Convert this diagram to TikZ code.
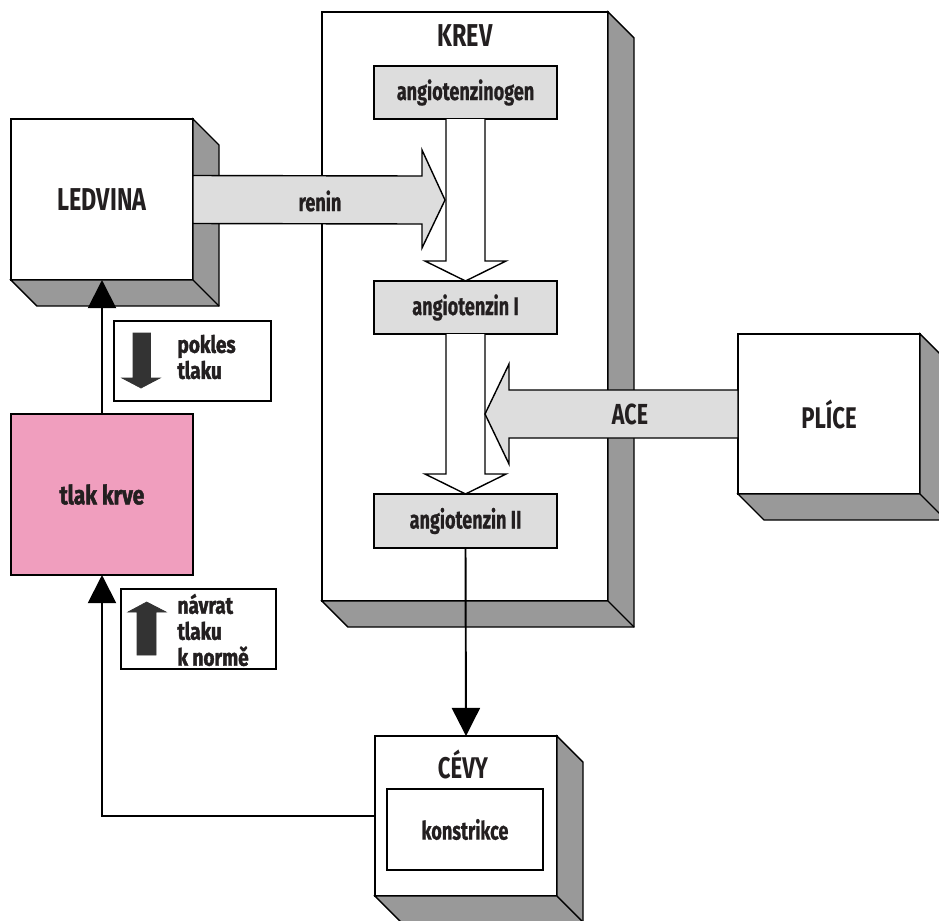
\documentclass[tikz,border=0pt]{standalone}
\usepackage{fontspec}
\setmainfont{Fira Sans}[FakeStretch=0.74]
\newfontfamily\labelfont{Fira Sans}[FakeStretch=0.71,FakeBold=0.6]
\newfontfamily\heavyfont{Fira Sans}[FakeStretch=0.80,FakeBold=1.7]
\usetikzlibrary{arrows.meta,calc,fit}

\definecolor{depthgray}{HTML}{999999}
\definecolor{panelgray}{HTML}{DDDDDD}
\definecolor{bppink}{HTML}{F09EBE}
\definecolor{inkdark}{HTML}{231F20}
\definecolor{arrowdark}{HTML}{333333}

% right and bottom faces of a raised box, 26 units deep
\newcommand\boxdepth[1]{%
  \filldraw[fill=depthgray,draw=black,line join=miter]
    (#1.north east) -- ++(26,26) -- ($(#1.south east)+(26,26)$)
    -- ($(#1.south west)+(26,26)$) -- (#1.south west) -- (#1.south east) -- cycle;
  \draw (#1.south east) -- ++(26,26);
}

\begin{document}
\begin{tikzpicture}[x=0.02cm,y=-0.02cm,line width=0.8pt,text=inkdark,
  face/.style={draw=black,fill=white,inner sep=0pt,outer sep=0pt},
  chem/.style={draw=black,fill=panelgray,inner sep=0pt,outer sep=0pt},
  chemtext/.style={font=\labelfont\bfseries\fontsize{14.5}{16}\selectfont},
  bigtext/.style={font=\bfseries\fontsize{18}{20}\selectfont},
  midtext/.style={font=\bfseries\fontsize{17}{19}\selectfont},
  heavytext/.style={font=\heavyfont\bfseries\fontsize{13.5}{14.8}\selectfont,align=left},
  conn/.style={line width=1.1pt,-{Triangle[width=16pt,length=16pt]}},
  blockarrow/.style={draw=black,fill=panelgray,line join=miter},
  hollowarrow/.style={draw=black,fill=white,line join=miter},
  darkarrow/.style={fill=arrowdark,draw=arrowdark,line width=0.4pt,line join=miter}]

\useasboundingbox (0,0) rectangle (939,920);
\clip (0,0) rectangle (939,920);

% ---- blood compartment ----
\node[face,fit={(322,12) (608,601)}] (krev) {};
\boxdepth{krev}
\node[bigtext] (krevlabel) at (465,36) {KREV};

\node[chem,fit={(374,66) (557,119)}] (ag) {};
\node[chemtext] at (ag) {angiotenzinogen};
\node[chem,fit={(374,281) (557,334)}] (a1) {};
\node[chemtext] at (a1) {angiotenzin I};
\node[chem,fit={(374,494) (557,548)}] (a2) {};
\node[chemtext] at (a2) {angiotenzin II};

% conversion steps
\filldraw[hollowarrow] ($(ag.south)+(-19.5,0)$) -- ($(a1.north)+(-19.5,-20)$)
  -- ($(a1.north)+(-40.5,-20)$) -- (a1.north) -- ($(a1.north)+(40.5,-20)$)
  -- ($(a1.north)+(19.5,-20)$) -- ($(ag.south)+(19.5,0)$);
\filldraw[hollowarrow] ($(a1.south)+(-19.5,0)$) -- ($(a2.north)+(-19.5,-20)$)
  -- ($(a2.north)+(-40.5,-20)$) -- (a2.north) -- ($(a2.north)+(40.5,-20)$)
  -- ($(a2.north)+(19.5,-20)$) -- ($(a1.south)+(19.5,0)$);

% ---- kidney ----
\node[face,fit={(11,119) (193,280)}] (led) {};
\boxdepth{led}
\node[bigtext] at (led) {LEDVINA};

% ---- lungs ----
\node[face,fit={(738,334) (920,494)}] (pl) {};
\boxdepth{pl}
\node[midtext] at (pl) {PLÍCE};

% ---- vessels ----
\node[face,fit={(375,736) (557,896)}] (cevy) {};
\boxdepth{cevy}
\node[midtext] (cevylabel) at (463,764) {CÉVY};
\node[face,fit={(387,789) (543,870)}] (kon) {};
\node[chemtext] at (kon) {konstrikce};

% ---- blood pressure ----
\node[draw=black,fill=bppink,inner sep=0pt,outer sep=0pt,fit={(11,414) (193,575)}] (tlak) {};
\node[heavytext,font=\heavyfont\bfseries\fontsize{15}{16}\selectfont] at (tlak) {tlak krve};

% renin and ACE transfer arrows
\filldraw[blockarrow] ($(led.east)+(0,-24)$) -- (422,176) -- (422,150) -- (445,200)
  -- (422,248) -- (422,224) -- ($(led.east)+(0,24)$) -- cycle;
\node[chemtext] (renin) at (320,201) {renin};
\filldraw[blockarrow] ($(pl.west)+(0,-24)$) -- (509,390) -- (509,364) -- (485,414)
  -- (509,464) -- (509,438) -- ($(pl.west)+(0,24)$) -- cycle;
\node[font=\bfseries\fontsize{16.5}{18}\selectfont] (ace) at (630,414) {ACE};

% ---- feedback loop ----
\draw[conn] (tlak.north) -- (led.south);
\draw[conn] (a2.south) -- (cevy.north);
\draw[conn] (cevy.west) -| (tlak.south);

% ---- legends ----
\node[face,fit={(114,321) (271,401)}] (pokles) {};
\filldraw[darkarrow] (133,333) -- (133,378) -- (122,378) -- (141,388) -- (160,378)
  -- (150.5,378) -- (150.5,333) -- cycle;
\node[heavytext,anchor=west] at (171,357) {pokles\\tlaku};

\node[face,fit={(121,589) (276,669)}] (navrat) {};
\filldraw[darkarrow] (146.7,602) -- (128,612) -- (137,612) -- (137,655) -- (156,655)
  -- (156,612) -- (166,612) -- cycle;
\node[heavytext,anchor=west] at (171,630) {návrat\\tlaku\\k normě};

\end{tikzpicture}
\end{document}
